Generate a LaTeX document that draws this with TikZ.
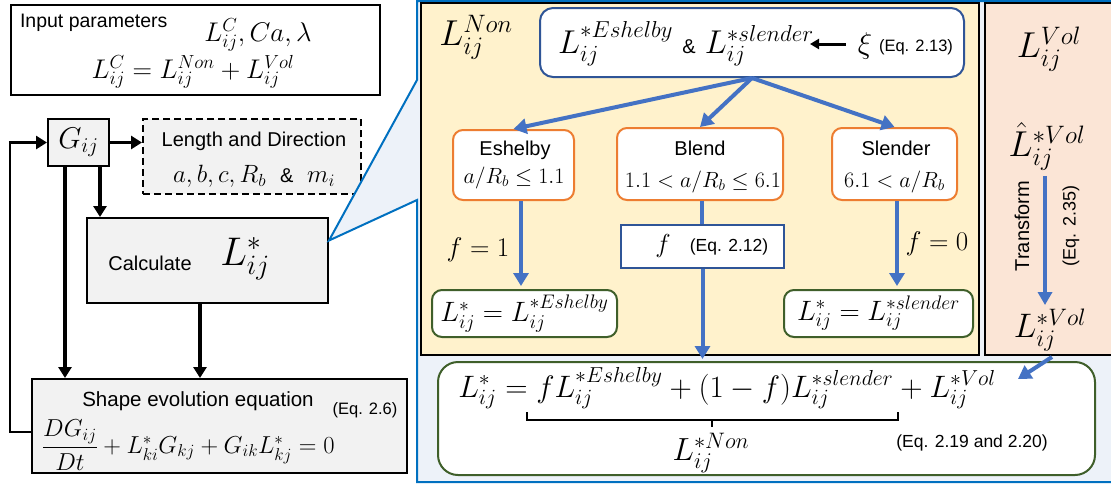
\RequirePackage{fix-cm}
\documentclass[tikz,border=0pt]{standalone}
\usepackage{amsmath}
\usepackage[no-math]{fontspec}
\setmainfont{Liberation Sans}
\usetikzlibrary{arrows.meta}
\definecolor{callblue}{HTML}{0070C0}
\definecolor{callfill}{HTML}{EDF2F9}
\definecolor{yel}{HTML}{FFF2CC}
\definecolor{peach}{HTML}{FBE5D6}
\definecolor{dblue}{HTML}{2F5597}
\definecolor{mblue}{HTML}{4472C4}
\definecolor{orng}{HTML}{ED7D31}
\definecolor{dgreen}{HTML}{3F5F2A}
\definecolor{lgrey}{HTML}{F2F2F2}
\newcommand{\myfs}[1]{\fontsize{#1}{#1}\selectfont}
\begin{document}
\begin{tikzpicture}[x=1pt,y=-1pt,
  txt/.style={inner sep=0pt,outer sep=0pt},
  greybox/.style={draw=black,line width=2pt,fill=lgrey,inner sep=0pt},
  barrow/.style={draw=black,line width=3.5pt,-{Triangle[length=11pt,width=13pt]}},
  bluearrow/.style={draw=mblue,line width=4pt,-{Triangle[length=13pt,width=15pt]}},
  blueline/.style={draw=mblue,line width=4pt},
  orbox/.style={draw=orng,line width=2pt,fill=white,rounded corners=10pt,inner sep=0pt},
  grbox/.style={draw=dgreen,line width=2pt,fill=white,rounded corners=10pt,inner sep=0pt},
]
\useasboundingbox (0,0) rectangle (1111,485);
\begin{scope}
\clip (0,0) rectangle (1111,485);
% ---------- left part ----------
\node[draw=black,line width=2.5pt,fill=white,minimum width=369pt,minimum height=90pt,inner sep=0pt] (inp) at (195.5,50) {};
\node[txt,anchor=west,font=\myfs{19.5}] (inpt) at (20,23) {Input parameters};
\node[txt,font=\myfs{27}] (inpm1) at (258,35) {$L^C_{ij}, Ca, \lambda$};
\node[txt,font=\myfs{27}] (inpm2) at (193,72) {$L^C_{ij} = L^{Non}_{ij} + L^{Vol}_{ij}$};

\node[greybox,minimum width=61pt,minimum height=47pt] (gij) at (78.5,142.5) {\myfs{30}$G_{ij}$};
\node[draw=black,line width=2pt,dash pattern=on 7pt off 4pt,fill=lgrey,minimum width=218pt,minimum height=75pt,inner sep=0pt] (len) at (252,156.5) {};
\node[txt,font=\myfs{20}] (lent) at (254,141) {Length and Direction};
\node[txt,font=\myfs{25}] (lenm) at (254,176) {$a,b,c,R_b$\ \ {\myfs{20}\&}\ \ $m_i$};

\node[greybox,minimum width=241pt,minimum height=85pt] (calc) at (207.5,260.5) {};
\node[txt,font=\myfs{20}] (calct) at (150,263) {Calculate};
\node[txt,font=\myfs{40}] (calcm) at (245,259) {$L^*_{ij}$};

\node[greybox,minimum width=375pt,minimum height=94pt] (shp) at (219.5,426) {};
\node[txt,font=\myfs{20.5}] (shpt) at (198,401) {Shape evolution equation};
\node[txt,font=\myfs{16.5}] (shpe) at (365,410) {(Eq. 2.6)};
\node[txt,font=\myfs{24.5},anchor=west] (shpm) at (42,445) {$\dfrac{DG_{ij}}{Dt} + L^*_{ki}G_{kj} + G_{ik}L^*_{kj} = 0$};

\draw[barrow] (gij.east) -- (gij.east -| len.west);
\draw[barrow] ([xshift=21.5pt]gij.south) -- ([xshift=21.5pt]gij.south |- calc.north);
\draw[barrow] ([xshift=-13.5pt]gij.south) -- ([xshift=-13.5pt]gij.south |- shp.north);
\draw[barrow] ([xshift=-7.5pt]calc.south) -- ([xshift=-7.5pt]calc.south |- shp.north);
\coordinate (fb1) at (10,432);
\coordinate (fb2) at (10,142.5);
\draw[line width=2.5pt] ([yshift=-6pt]shp.west) -- (fb1) -- (fb2);
\draw[barrow] ([xshift=-1.2pt]fb2) -- (gij.west);

% ---------- callout ----------
\path[draw=callblue,fill=callfill,line width=2pt,line join=miter]
  (417,1) -- (1114,1) -- (1114,482) -- (417,482) -- (417,200) -- ([yshift=20pt]calc.east) -- (417,80) -- cycle;

% ---------- L Non panel ----------
\node[draw=black,line width=2.5pt,fill=yel,minimum width=558pt,minimum height=352pt,inner sep=0pt] (non) at (700,179) {};
\node[draw=black,line width=2.5pt,fill=peach,minimum width=132pt,minimum height=352pt,inner sep=0pt] (vol) at (1051,179) {};
\node[txt,font=\myfs{36}] (nonl) at (476,37) {$L^{Non}_{ij}$};

\node[draw=dblue,line width=2pt,fill=white,rounded corners=13pt,minimum width=424pt,minimum height=69pt,inner sep=0pt] (top) at (752,42.5) {};
\node[txt,font=\myfs{33}] (topm) at (686,44) {$L^{*Eshelby}_{ij}$ {\myfs{20}\&} $L^{*slender}_{ij}$};
\node[txt,font=\myfs{30}] (xi) at (865,46) {$\xi$};
\node[txt,font=\myfs{16.5}] (xie) at (916,47) {(Eq. 2.13)};
\coordinate (xiend) at (810,44);
\draw[draw=black,line width=3pt,-{Triangle[length=9pt,width=10pt]}] ([xshift=-12pt,yshift=2pt]xi.west) -- (xiend);

\node[orbox,minimum width=121pt,minimum height=70pt] (esh) at (513.5,165) {};
\node[txt,font=\myfs{20}] (esht) at (515,150) {Eshelby};
\node[txt,font=\myfs{22}] (eshm) at (514,178) {$a/R_b \le 1.1$};
\node[orbox,minimum width=166pt,minimum height=72pt] (bld) at (700,164) {};
\node[txt,font=\myfs{20}] (bldt) at (700,148) {Blend};
\node[txt,font=\myfs{22}] (bldm) at (703,182) {$1.1 < a/R_b \le 6.1$};
\node[orbox,minimum width=125pt,minimum height=72pt] (sld) at (894.5,164) {};
\node[txt,font=\myfs{20}] (sldt) at (896,148) {Slender};
\node[txt,font=\myfs{22}] (sldm) at (894.5,182) {$6.1 < a/R_b$};

\draw[bluearrow] (top.south) -- (esh.north);
\draw[bluearrow] (top.south) -- (bld.north);
\draw[bluearrow] (top.south) -- (sld.north);

\node[grbox,minimum width=185pt,minimum height=47pt] (g1) at (524.5,313.5) {\myfs{28}$L^*_{ij} = L^{*Eshelby}_{ij}$};
\node[grbox,minimum width=189pt,minimum height=47pt] (g2) at (878.5,313.5) {\myfs{28}$L^*_{ij} = L^{*slender}_{ij}$};
\node[draw=dblue,line width=2pt,fill=white,minimum width=163pt,minimum height=43pt,inner sep=0pt] (fbx) at (702.5,246.5) {};
\node[txt,font=\myfs{26}] (fm) at (663,246) {$f$};
\node[txt,font=\myfs{17.5}] (fe) at (729,247) {(Eq. 2.12)};

\node[txt,font=\myfs{27}] (f1) at (478,250) {$f=1$};
\node[txt,font=\myfs{27}] (f0) at (937,244) {$f=0$};

\draw[bluearrow,shorten >=3pt] ([xshift=7.5pt]esh.south) -- ([xshift=7.5pt]esh.south |- g1.north);
\draw[bluearrow,shorten >=3pt] ([xshift=2.5pt]sld.south) -- ([xshift=2.5pt]sld.south |- g2.north);
\draw[blueline] ([xshift=2pt]bld.south) -- ([xshift=2pt]bld.south |- fbx.north);

% ---------- L Vol panel ----------
\node[txt,font=\myfs{36}] (voll) at (1049,49) {$L^{Vol}_{ij}$};
\node[txt,font=\myfs{36}] (vhat) at (1047,146) {$\hat{L}^{*Vol}_{ij}$};
\node[txt,font=\myfs{34}] (vstar) at (1050,330) {$L^{*Vol}_{ij}$};
\node[txt,font=\myfs{20}] (trf) at (1022,226) [rotate=90] {Transform};
\node[txt,font=\myfs{18}] (tre) at (1071,226) [rotate=90] {(Eq. 2.35)};
\draw[draw=mblue,line width=3.5pt,-{Triangle[length=13pt,width=14pt]}] ([xshift=-2pt,yshift=-6pt]vhat.south) -- ([xshift=-5pt,yshift=4pt]vstar.north);

% ---------- bottom box ----------
\node[grbox,rounded corners=20pt,minimum width=657pt,minimum height=113pt] (bot) at (766.5,418.5) {};
\node[txt,font=\myfs{31}] (botm) at (727,388) {$L^*_{ij} = f L^{*Eshelby}_{ij} + (1-f) L^{*slender}_{ij} + L^{*Vol}_{ij}$};
\draw[line width=2pt] (527,412) -- (527,420) -- (898,420) -- (898,412);
\draw[line width=2.5pt] (712,420) -- (712,427);
\node[txt,font=\myfs{32}] (botn) at (711,453) {$L^{*Non}_{ij}$};
\node[txt,font=\myfs{17.5}] (bote) at (972,443) {(Eq. 2.19 and 2.20)};

\draw[bluearrow,shorten >=2pt] (fbx.south) -- (fbx.south |- bot.north);
\coordinate (volin) at (1018,379);
\draw[bluearrow] ([xshift=2pt,yshift=-6pt]vstar.south) -- (volin);
\end{scope}
\end{tikzpicture}
\end{document}
